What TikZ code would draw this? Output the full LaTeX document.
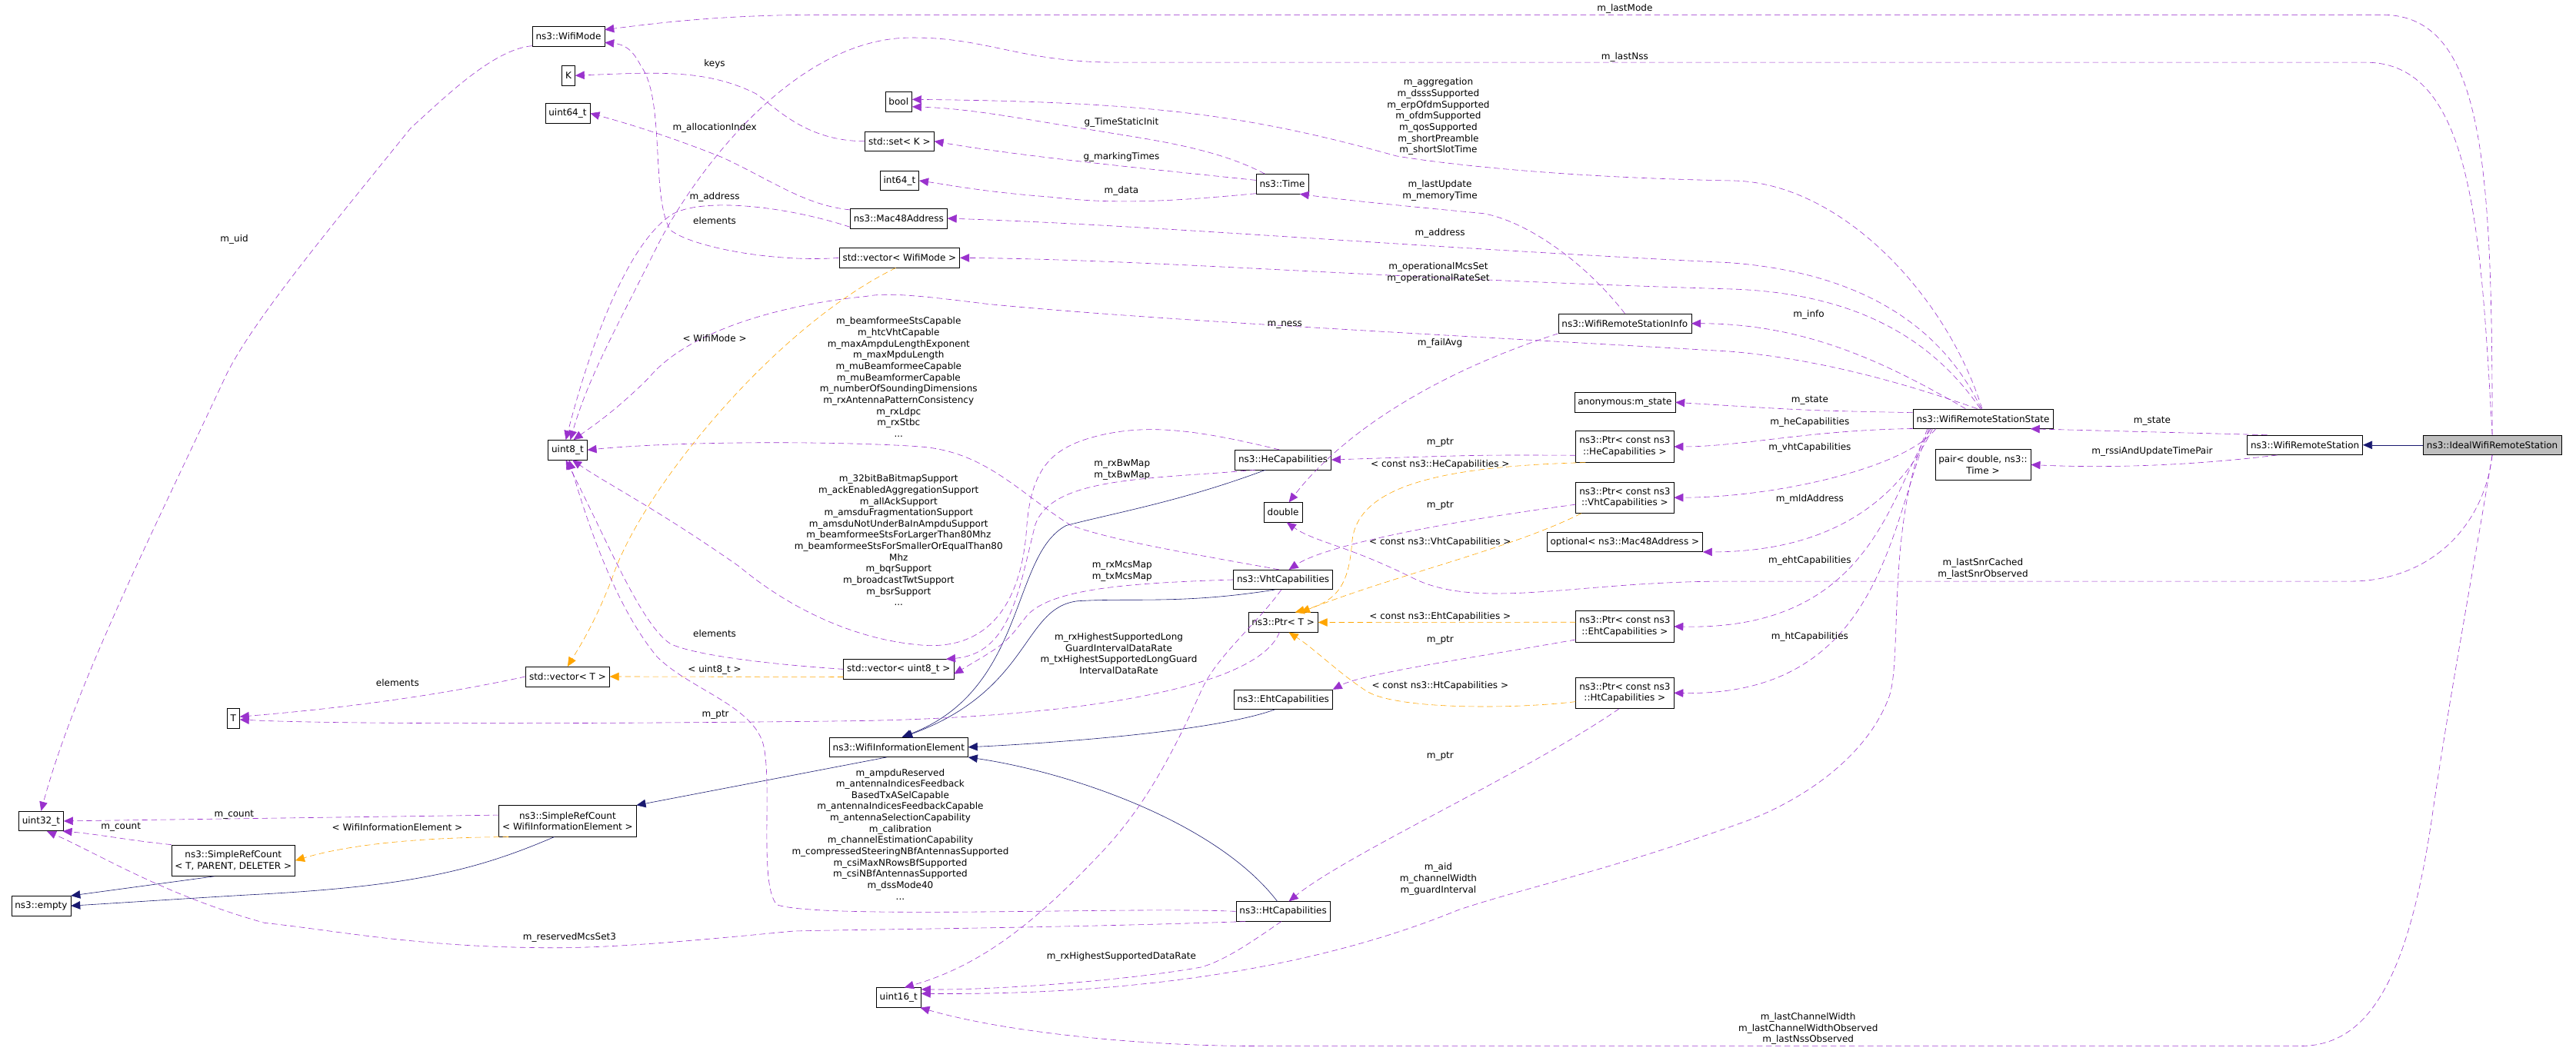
\documentclass[tikz,border=0pt]{standalone}
\usepackage{fontspec}
\setmainfont{DejaVu Sans}
\usetikzlibrary{arrows.meta}
\definecolor{usec}{HTML}{9A32CD}
\definecolor{tmplc}{HTML}{FFA500}
\definecolor{inhc}{HTML}{191970}

\begin{document}
\begin{tikzpicture}[x=0.05cm,y=-0.05cm,
    cls/.style = {rectangle,draw=black,fill=white,font=\fontsize{8}{9.75}\selectfont,align=center,inner xsep=3pt,inner ysep=1pt,minimum height=0.6cm},
    cls2/.style = {cls,minimum height=0.95cm},
    lbl/.style = {font=\fontsize{8}{9.75}\selectfont,align=center,inner sep=0pt},
    use/.style = {draw=usec,dash pattern=on 5pt off 3pt,-{Triangle[length=8pt,width=7pt]},fill=none},
    tmpl/.style = {use,draw=tmplc},
    inh/.style = {draw=inhc,solid,-{Triangle[length=8pt,width=7pt]}}]
\useasboundingbox (0,0) rectangle (1568,640);
% classes
\node[cls] (mode) at (346,22) {ns3::WifiMode};
\node[cls] (k) at (346,46) {K};
\node[cls] (u64) at (345.5,69) {uint64\_t};
\node[cls] (u8) at (345.5,274) {uint8\_t};
\node[cls] (vt) at (345.5,412) {std::vector< T >};
\node[cls] (t) at (142,437.5) {T};
\node[cls] (u32) at (25,500) {uint32\_t};
\node[cls2] (srcw) at (345.5,500) {ns3::SimpleRefCount\\< WifiInformationElement >};
\node[cls2] (srct) at (142,524) {ns3::SimpleRefCount\\< T, PARENT, DELETER >};
\node[cls] (empty) at (25,551.6) {ns3::empty};
\node[cls] (bool) at (547,62) {bool};
\node[cls] (setk) at (547.5,86) {std::set< K >};
\node[cls] (i64) at (547.5,110) {int64\_t};
\node[cls] (mac) at (547,133) {ns3::Mac48Address};
\node[cls] (vmode) at (547.5,157) {std::vector< WifiMode >};
\node[cls] (vu8) at (547,407.5) {std::vector< uint8\_t >};
\node[cls] (wie) at (547,455) {ns3::WifiInformationElement};
\node[cls] (u16) at (547,607.5) {uint16\_t};
\node[cls] (time) at (780.5,112) {ns3::Time};
\node[cls] (hecap) at (781,280) {ns3::HeCapabilities};
\node[cls] (dbl) at (781,312) {double};
\node[cls] (vhtcap) at (781,353) {ns3::VhtCapabilities};
\node[cls] (ptrt) at (781,379) {ns3::Ptr< T >};
\node[cls] (ehtcap) at (781,426) {ns3::EhtCapabilities};
\node[cls] (htcap) at (781,555) {ns3::HtCapabilities};
\node[cls] (info) at (989,197) {ns3::WifiRemoteStationInfo};
\node[cls] (anon) at (989,245) {anonymous:m\_state};
\node[cls2] (phe) at (989,272) {ns3::Ptr< const ns3\\::HeCapabilities >};
\node[cls2] (pvht) at (989,303) {ns3::Ptr< const ns3\\::VhtCapabilities >};
\node[cls] (opt) at (989,330) {optional< ns3::Mac48Address >};
\node[cls2] (peht) at (989,381.5) {ns3::Ptr< const ns3\\::EhtCapabilities >};
\node[cls2] (pht) at (989,422) {ns3::Ptr< const ns3\\::HtCapabilities >};
\node[cls] (wrss) at (1207,255) {ns3::WifiRemoteStationState};
\node[cls2] (pair) at (1207,283) {pair< double, ns3::\\Time >};
\node[cls] (wrs) at (1403,271) {ns3::WifiRemoteStation};
\node[cls,fill=black!25] (ideal) at (1517,271) {ns3::IdealWifiRemoteStation};
% inheritance
\draw[inh] (ideal.west) -- (wrs.east);
\draw[inh] (wie.-140) -- (srcw.north east);
\draw[inh] (srcw.-130) .. controls (290,530) and (250,540) .. (150,545) .. controls (100,548) and (70,550) .. (empty.east);
\draw[inh] (srct.-140) -- (empty.north east);
\draw[inh] (ehtcap.-130) .. controls (740,445) and (650,452) .. (wie.east);
\draw[inh] (hecap.-150) .. controls (720,305) and (680,312) .. (649,320) .. controls (615,338) and (625,420) .. (wie.72);
\draw[inh] (vhtcap.-130) .. controls (720,368) and (690,364) .. (656,366) .. controls (622,370) and (628,420) .. (wie.66);
\draw[inh] (htcap.120) .. controls (740,500) and (650,470) .. (wie.south east);
% usage
\draw[use] (ideal.north) .. controls (1517,100) and (1512,9) .. (1450,9) -- (500,9) .. controls (440,9) and (400,14) .. (mode.10);
\node[lbl] (lMode) at (989,5.4) {m\_lastMode};
\draw[use] (ideal.north) .. controls (1510,140) and (1505,38) .. (1440,38) -- (680,38) .. controls (620,38) and (600,22) .. (552,23) .. controls (480,25) and (420,110) .. (400,150) .. controls (375,200) and (358,230) .. (u8.75);
\node[lbl] (lNss) at (989,35) {m\_lastNss};
\draw[use] (ideal.south) .. controls (1512,320) and (1480,354) .. (1430,354) -- (1050,354) .. controls (960,354) and (900,372) .. (860,352) .. controls (820,332) and (800,330) .. (dbl.-70);
\node[lbl] (lSnr) at (1207,346.5) {m\_lastSnrCached\\m\_lastSnrObserved};
\draw[use] (ideal.south) .. controls (1505,350) and (1490,430) .. (1480,500) .. controls (1465,600) and (1440,637) .. (1400,637) -- (766,637) .. controls (690,637) and (610,628) .. (u16.-25);
\node[lbl] (lCw) at (1100.6,626.5) {m\_lastChannelWidth\\m\_lastChannelWidthObserved\\m\_lastNssObserved};
\draw[use] (wrs.165) -- (wrss.-12);
\node[lbl] (lState) at (1310,256.6) {m\_state};
\draw[use] (wrs.-160) .. controls (1330,284) and (1280,285) .. (pair.east);
\node[lbl] (lRssi) at (1310,274.9) {m\_rssiAndUpdateTimePair};
\draw[use] (wrss.95) .. controls (1185,180) and (1120,110) .. (1053,110) .. controls (950,108) and (880,100) .. (850,95) .. controls (760,70) and (700,62) .. (bool.10);
\node[lbl] (lBool) at (875.5,71) {m\_aggregation\\m\_dsssSupported\\m\_erpOfdmSupported\\m\_ofdmSupported\\m\_qosSupported\\m\_shortPreamble\\m\_shortSlotTime};
\draw[use] (wrss.100) .. controls (1178,190) and (1120,165) .. (1053,160) .. controls (850,150) and (700,137) .. (mac.east);
\node[lbl] (lAddr) at (876.5,142) {m\_address};
\draw[use] (wrss.105) .. controls (1172,200) and (1120,178) .. (1053,176) .. controls (850,170) and (700,158) .. (vmode.east);
\node[lbl] (lOpSet) at (875.5,166) {m\_operationalMcsSet\\m\_operationalRateSet};
\draw[use] (wrss.120) .. controls (1150,230) and (1100,218) .. (1053,214) .. controls (900,205) and (700,195) .. (600,185) .. controls (560,180) and (540,178) .. (527,180.5) .. controls (480,185) and (420,200) .. (395,230) .. controls (375,250) and (360,260) .. (u8.60);
\node[lbl] (lNess) at (782,198) {m\_ness};
\draw[use] (wrss.150) .. controls (1150,222) and (1100,197) .. (info.east);
\node[lbl] (lInfo) at (1101,191.5) {m\_info};
\draw[use] (info.north) .. controls (965,160) and (930,135) .. (903,130) .. controls (850,125) and (820,122) .. (time.-30);
\node[lbl] (lUpd) at (876.5,116) {m\_lastUpdate\\m\_memoryTime};
\draw[use] (info.south west) .. controls (880,225) and (820,260) .. (dbl.60);
\node[lbl] (lFail) at (876.5,209) {m\_failAvg};
\draw[use] (wrss.175) .. controls (1100,250) .. (anon.east);
\node[lbl] (lAnon) at (1101.6,244) {m\_state};
\draw[use] (wrss.188) .. controls (1100,262) and (1060,272) .. (phe.east);
\node[lbl] (lHe) at (1101.6,257) {m\_heCapabilities};
\draw[use] ([xshift=0.7cm]wrss.south west) .. controls (1160,285) and (1080,303) .. (pvht.east);
\node[lbl] (lVht) at (1101.6,272.6) {m\_vhtCapabilities};
\draw[use] ([xshift=0.6cm]wrss.south west) .. controls (1158,300) and (1120,336) .. (opt.south east);
\node[lbl] (lMld) at (1101.6,304) {m\_mldAddress};
\draw[use] ([xshift=0.55cm]wrss.south west) .. controls (1150,300) and (1140,384) .. (peht.east);
\node[lbl] (lEht) at (1101.6,341.7) {m\_ehtCapabilities};
\draw[use] ([xshift=0.5cm]wrss.south west) .. controls (1150,320) and (1145,424) .. (pht.east);
\node[lbl] (lHt) at (1101.6,388) {m\_htCapabilities};
\draw[use] ([xshift=0.45cm]wrss.south west) .. controls (1148,320) and (1158,400) .. (1150,424) .. controls (1135,465) and (1090,490) .. (1063,500) .. controls (980,530) and (930,540) .. (888,554) .. controls (800,590) and (690,606) .. (u16.10);
\node[lbl] (lAid) at (875.5,535.3) {m\_aid\\m\_channelWidth\\m\_guardInterval};
\draw[use] (phe.-170) .. controls (900,277) .. (hecap.east);
\node[lbl] (lPtrHe) at (876.6,269.7) {m\_ptr};
\draw[tmpl] (phe.-158) .. controls (880,284) and (826,295) .. (823,330) .. controls (821,355) and (815,366) .. (ptrt.40);
\node[lbl] (lTHe) at (876.6,283) {< const ns3::HeCapabilities >};
\draw[use] (pvht.-172) .. controls (900,315) and (810,330) .. (vhtcap.60);
\node[lbl] (lPtrVht) at (876.6,308) {m\_ptr};
\draw[tmpl] (pvht.-160) .. controls (920,334) and (850,350) .. (ptrt.30);
\node[lbl] (lTVht) at (876.6,330) {< const ns3::VhtCapabilities >};
\draw[tmpl] (peht.175) -- (ptrt.east);
\node[lbl] (lTEht) at (876.6,375.5) {< const ns3::EhtCapabilities >};
\draw[use] (peht.-165) .. controls (900,400) and (830,410) .. (ehtcap.north east);
\node[lbl] (lPtrEht) at (876.6,390) {m\_ptr};
\draw[tmpl] (pht.-170) .. controls (920,432) and (850,432) .. (832,421) .. controls (815,410) and (800,395) .. (ptrt.-60);
\node[lbl] (lTHt) at (876.6,417.5) {< const ns3::HtCapabilities >};
\draw[use] (pht.-110) .. controls (930,470) and (820,520) .. (htcap.60);
\node[lbl] (lPtrHt) at (876.6,460.7) {m\_ptr};
\draw[use] (hecap.-160) .. controls (700,292) and (640,290) .. (630,320) .. controls (620,360) and (615,398) .. (vu8.12);
\node[lbl] (lBw) at (683,286) {m\_rxBwMap\\m\_txBwMap};
\draw[use] (vhtcap.west) .. controls (690,355) and (640,358) .. (625,375) .. controls (612,392) .. (vu8.-5);
\node[lbl] (lMcs) at (683,348) {m\_rxMcsMap\\m\_txMcsMap};
\draw[use] (vhtcap.112) .. controls (730,338) and (680,330) .. (652,320) .. controls (620,300) and (600,275) .. (560,272) .. controls (520,269) and (420,268) .. (u8.east);
\node[lbl] (lVhtBlock) at (547,229.7) {m\_beamformeeStsCapable\\m\_htcVhtCapable\\m\_maxAmpduLengthExponent\\m\_maxMpduLength\\m\_muBeamformeeCapable\\m\_muBeamformerCapable\\m\_numberOfSoundingDimensions\\m\_rxAntennaPatternConsistency\\m\_rxLdpc\\m\_rxStbc\\...};
\draw[use] (hecap.110) .. controls (730,262) and (700,258) .. (670,265) .. controls (640,272) and (628,285) .. (625,320) .. controls (622,370) and (600,395) .. (563,393) .. controls (520,390) and (480,370) .. (450,345) .. controls (400,310) and (370,295) .. (u8.-65);
\node[lbl] (l32) at (547,329) {m\_32bitBaBitmapSupport\\m\_ackEnabledAggregationSupport\\m\_allAckSupport\\m\_amsduFragmentationSupport\\m\_amsduNotUnderBaInAmpduSupport\\m\_beamformeeStsForLargerThan80Mhz\\m\_beamformeeStsForSmallerOrEqualThan80\\Mhz\\m\_bqrSupport\\m\_broadcastTwtSupport\\m\_bsrSupport\\...};
\draw[use] (vhtcap.-100) .. controls (765,380) and (740,400) .. (731,421) .. controls (700,490) and (680,510) .. (655,535) .. controls (620,570) and (590,590) .. (u16.60);
\node[lbl] (lHigh) at (681,398) {m\_rxHighestSupportedLong\\GuardIntervalDataRate\\m\_txHighestSupportedLongGuard\\IntervalDataRate};
\draw[use] (ptrt.-110) .. controls (765,420) and (650,437) .. (520,439) .. controls (350,441) and (200,441) .. (t.-10);
\node[lbl] (lTPtr) at (435.5,435.4) {m\_ptr};
\draw[use] (vu8.west) .. controls (460,404) and (420,398) .. (408,392) .. controls (390,380) and (370,330) .. (u8.-100);
\node[lbl] (lElemU8) at (435,386) {elements};
\draw[tmpl] (vu8.-172) -- (vt.east);
\node[lbl] (lU8T) at (435,408) {< uint8\_t >};
\draw[use] (vt.west) .. controls (260,425) and (200,432) .. (t.15);
\node[lbl] (lElemT) at (242,415.7) {elements};
\draw[tmpl] (vmode.-110) .. controls (470,200) and (390,300) .. (373,351) .. controls (362,380) and (352,395) .. (vt.north);
\node[lbl] (lWm) at (435,206) {< WifiMode >};
\draw[use] (vmode.west) .. controls (470,160) and (420,150) .. (408,140) .. controls (396,120) and (405,60) .. (390,40) .. controls (385,30) and (380,27) .. (mode.-10);
\node[lbl] (lElemM) at (435,134.5) {elements};
\draw[use] (mac.170) .. controls (490,125) and (470,110) .. (440,96) .. controls (410,84) and (385,76) .. (u64.east);
\node[lbl] (lAlloc) at (435,78) {m\_allocationIndex};
\draw[use] (mac.-170) .. controls (480,126) and (430,120) .. (410,130) .. controls (385,145) and (362,200) .. (u8.100);
\node[lbl] (lMacAddr) at (435,120) {m\_address};
\draw[use] (setk.west) .. controls (490,86) and (472,65) .. (460,57) .. controls (430,42) and (400,44) .. (k.east);
\node[lbl] (lKeys) at (435,39) {keys};
\draw[use] (time.150) .. controls (740,90) and (700,85) .. (670,80) .. controls (620,72) and (590,66) .. (bool.-20);
\node[lbl] (lTsi) at (682.6,74.4) {g\_TimeStaticInit};
\draw[use] (time.172) .. controls (700,103) and (620,95) .. (setk.east);
\node[lbl] (lMt) at (682.6,95.5) {g\_markingTimes};
\draw[use] (time.-160) .. controls (720,122) and (680,125) .. (640,120) .. controls (600,117) and (580,113) .. (i64.east);
\node[lbl] (lData) at (682.6,116.5) {m\_data};
\draw[use] (htcap.west) .. controls (690,552) and (500,560) .. (473,551) .. controls (462,540) and (470,480) .. (465,455) .. controls (460,430) and (420,420) .. (400,400) .. controls (375,370) and (358,320) .. (u8.-82);
\node[lbl] (lHtBlock) at (548,508) {m\_ampduReserved\\m\_antennaIndicesFeedback\\BasedTxASelCapable\\m\_antennaIndicesFeedbackCapable\\m\_antennaSelectionCapability\\m\_calibration\\m\_channelEstimationCapability\\m\_compressedSteeringNBfAntennasSupported\\m\_csiMaxNRowsBfSupported\\m\_csiNBfAntennasSupported\\m\_dssMode40\\...};
\draw[use] (htcap.-165) .. controls (650,565) and (520,566) .. (483,567) .. controls (400,575) and (360,578) .. (322,577) .. controls (250,576) and (200,566) .. (161,562) .. controls (100,545) and (60,520) .. (u32.-60);
\node[lbl] (lRes) at (346.7,571) {m\_reservedMcsSet3};
\draw[use] (htcap.-100) .. controls (760,575) and (745,585) .. (731,589) .. controls (680,598) and (600,603) .. (u16.20);
\node[lbl] (lHtDr) at (682.6,582.4) {m\_rxHighestSupportedDataRate};
\draw[use] (srcw.175) -- (u32.east);
\node[lbl] (lCnt1) at (142.5,496) {m\_count};
\draw[tmpl] (srcw.-165) .. controls (250,510) and (210,515) .. (srct.east);
\node[lbl] (lWie) at (241.8,503.6) {< WifiInformationElement >};
\draw[use] (srct.north west) .. controls (80,512) and (60,508) .. (u32.-25);
\node[lbl] (lCnt2) at (73.6,503.8) {m\_count};
\draw[use] (mode.-165) .. controls (300,30) and (270,60) .. (250,78) .. controls (200,140) and (150,200) .. (136,232) .. controls (90,330) and (45,420) .. (u32.north);
\node[lbl] (lUid) at (142.6,146) {m\_uid};
\end{tikzpicture}
\end{document}
